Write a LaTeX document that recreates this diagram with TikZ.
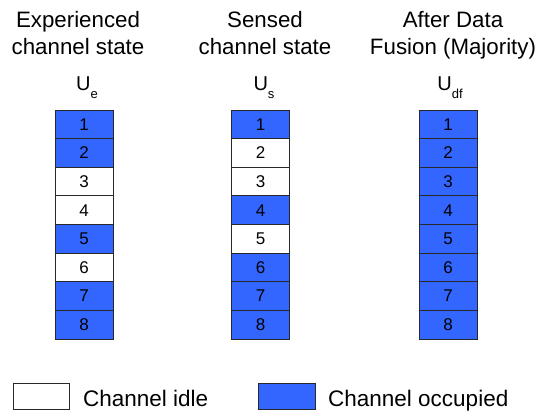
\documentclass[tikz,border=0pt]{standalone}
\usepackage{fontspec}
\setmainfont{Liberation Sans}
\definecolor{occ}{RGB}{51,102,255}
\definecolor{edge}{RGB}{40,40,40}
\begin{document}
\begin{tikzpicture}[x=1pt,y=-1pt,
  cellbox/.style={draw=edge,line width=0.8pt,minimum width=58pt,minimum height=28.625pt,inner sep=0pt,font=\fontsize{17}{17}\selectfont},
  busy/.style={cellbox,fill=occ},
  idle/.style={cellbox,fill=white},
  title/.style={anchor=base,inner sep=0pt,font=\fontsize{22.3}{27}\selectfont},
  ulabel/.style={anchor=base,inner sep=0pt,font=\fontsize{20}{20}\selectfont},
  legbox/.style={draw=edge,line width=0.8pt,minimum height=26pt,inner sep=0pt},
  legtext/.style={anchor=base west,inner sep=0pt,font=\fontsize{22.5}{22.5}\selectfont}]
\useasboundingbox (0,0) rectangle (541,414);
% titles
\node[title] (t1a) at (78,27.5) {Experienced};
\node[title] (t1b) at (78,54.5) {channel state};
\node[title] (t2a) at (265,27.5) {Sensed};
\node[title] (t2b) at (265,54.5) {channel state};
\node[title] (t3a) at (453,27.5) {After Data};
\node[title] (t3b) at (453,54.5) {Fusion (Majority)};
% U labels
\node[ulabel] (u1) at (87,91) {U\raisebox{-8pt}{\fontsize{13}{13}\selectfont e}};
\node[ulabel] (u2) at (264,91) {U\raisebox{-8pt}{\fontsize{13}{13}\selectfont s}};
\node[ulabel] (u3) at (450,91) {U\raisebox{-8pt}{\fontsize{13}{13}\selectfont df}};
% columns
\foreach \i/\s in {1/busy,2/busy,3/idle,4/idle,5/busy,6/idle,7/busy,8/busy}
  \node[\s] (a\i) at (84,{110+28.625*(\i-0.5)}) {\i};
\foreach \i/\s in {1/busy,2/idle,3/idle,4/busy,5/idle,6/busy,7/busy,8/busy}
  \node[\s] (b\i) at (260.5,{110+28.625*(\i-0.5)}) {\i};
\foreach \i in {1,...,8}
  \node[busy] (c\i) at (448,{110+28.625*(\i-0.5)}) {\i};
% legend
\node[legbox,fill=white,minimum width=56pt] (lidle) at (41,396) {};
\node[legtext] (lidlet) at (83,406.5) {Channel idle};
\node[legbox,fill=occ,minimum width=57pt] (locc) at (286.5,396) {};
\node[legtext] (locct) at (328,406.5) {Channel occupied};
\end{tikzpicture}
\end{document}
